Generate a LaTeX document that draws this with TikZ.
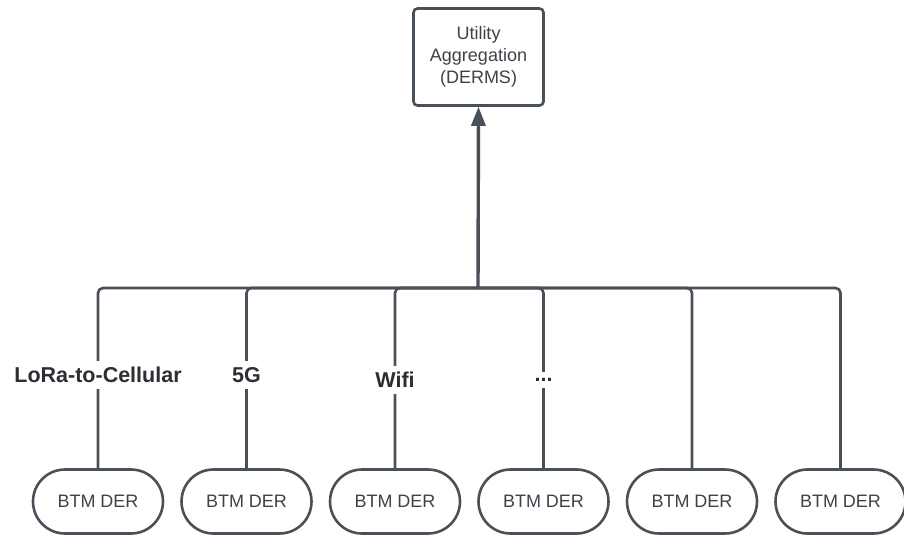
\documentclass[tikz,border=0pt]{standalone}
\usepackage{fontspec}
\setmainfont{Liberation Sans}
\usetikzlibrary{arrows.meta}
\definecolor{wire}{RGB}{74,80,88}
\definecolor{ink}{RGB}{62,66,72}
\tikzset{
  link/.style={draw=wire,line width=2.6pt},
  aggbox/.style={draw=wire,line width=2.6pt,rounded corners=4pt,minimum width=130pt,minimum height=97pt,align=center,text=ink,font=\fontsize{18}{22}\selectfont},
  derbox/.style={draw=wire,line width=2.6pt,rounded corners=32pt,minimum width=130pt,minimum height=64pt,text=ink,font=\fontsize{18}{21}\selectfont},
  tag/.style={fill=white,inner xsep=1pt,inner ysep=6pt,text=ink!70!black,font=\bfseries\fontsize{21.5}{25}\selectfont}
}
\begin{document}
\begin{tikzpicture}[x=1pt,y=-1pt]
                \useasboundingbox (0,0) rectangle (904,536);
                %% top
                \node[aggbox] (derms) at (478.5,57) {Utility\\Aggregation\\(DERMS)};
                \coordinate (bus) at (478,288);
                %% bottom
                \node[derbox] (der1) at (98,501.5) {BTM DER};
                \node[derbox] (der2) at (246.5,501.5) {BTM DER};
                \node[derbox] (der3) at (395,501.5) {BTM DER};
                \node[derbox] (der4) at (543.5,501.5) {BTM DER};
                \node[derbox] (der5) at (692,501.5) {BTM DER};
                \node[derbox] (der6) at (840.5,501.5) {BTM DER};
                %% links
                \draw[link,rounded corners=5pt] (der1.north) |- (bus);
                \draw[link,rounded corners=5pt] (der2.north) |- (bus);
                \draw[link,rounded corners=5pt] (der3.north) |- (bus);
                \draw[link,rounded corners=5pt] (der4.north) |- (bus);
                \draw[link,rounded corners=5pt] (der5.north) |- (bus);
                \draw[link,rounded corners=5pt] (der6.north) |- (bus);
                \draw[link,line width=3.4pt,-{Triangle[length=19pt,width=14pt]}] (bus) -- (derms.south);
                %% labels
                \node[tag] (lora) at (98,375) {LoRa-to-Cellular};
                \node[tag] (fiveg) at (246.5,375) {5G};
                \node[tag] (wifi) at (395,380) {Wifi};
                \node[tag] (more) at (543.5,380) {...};
            \end{tikzpicture}
\end{document}
